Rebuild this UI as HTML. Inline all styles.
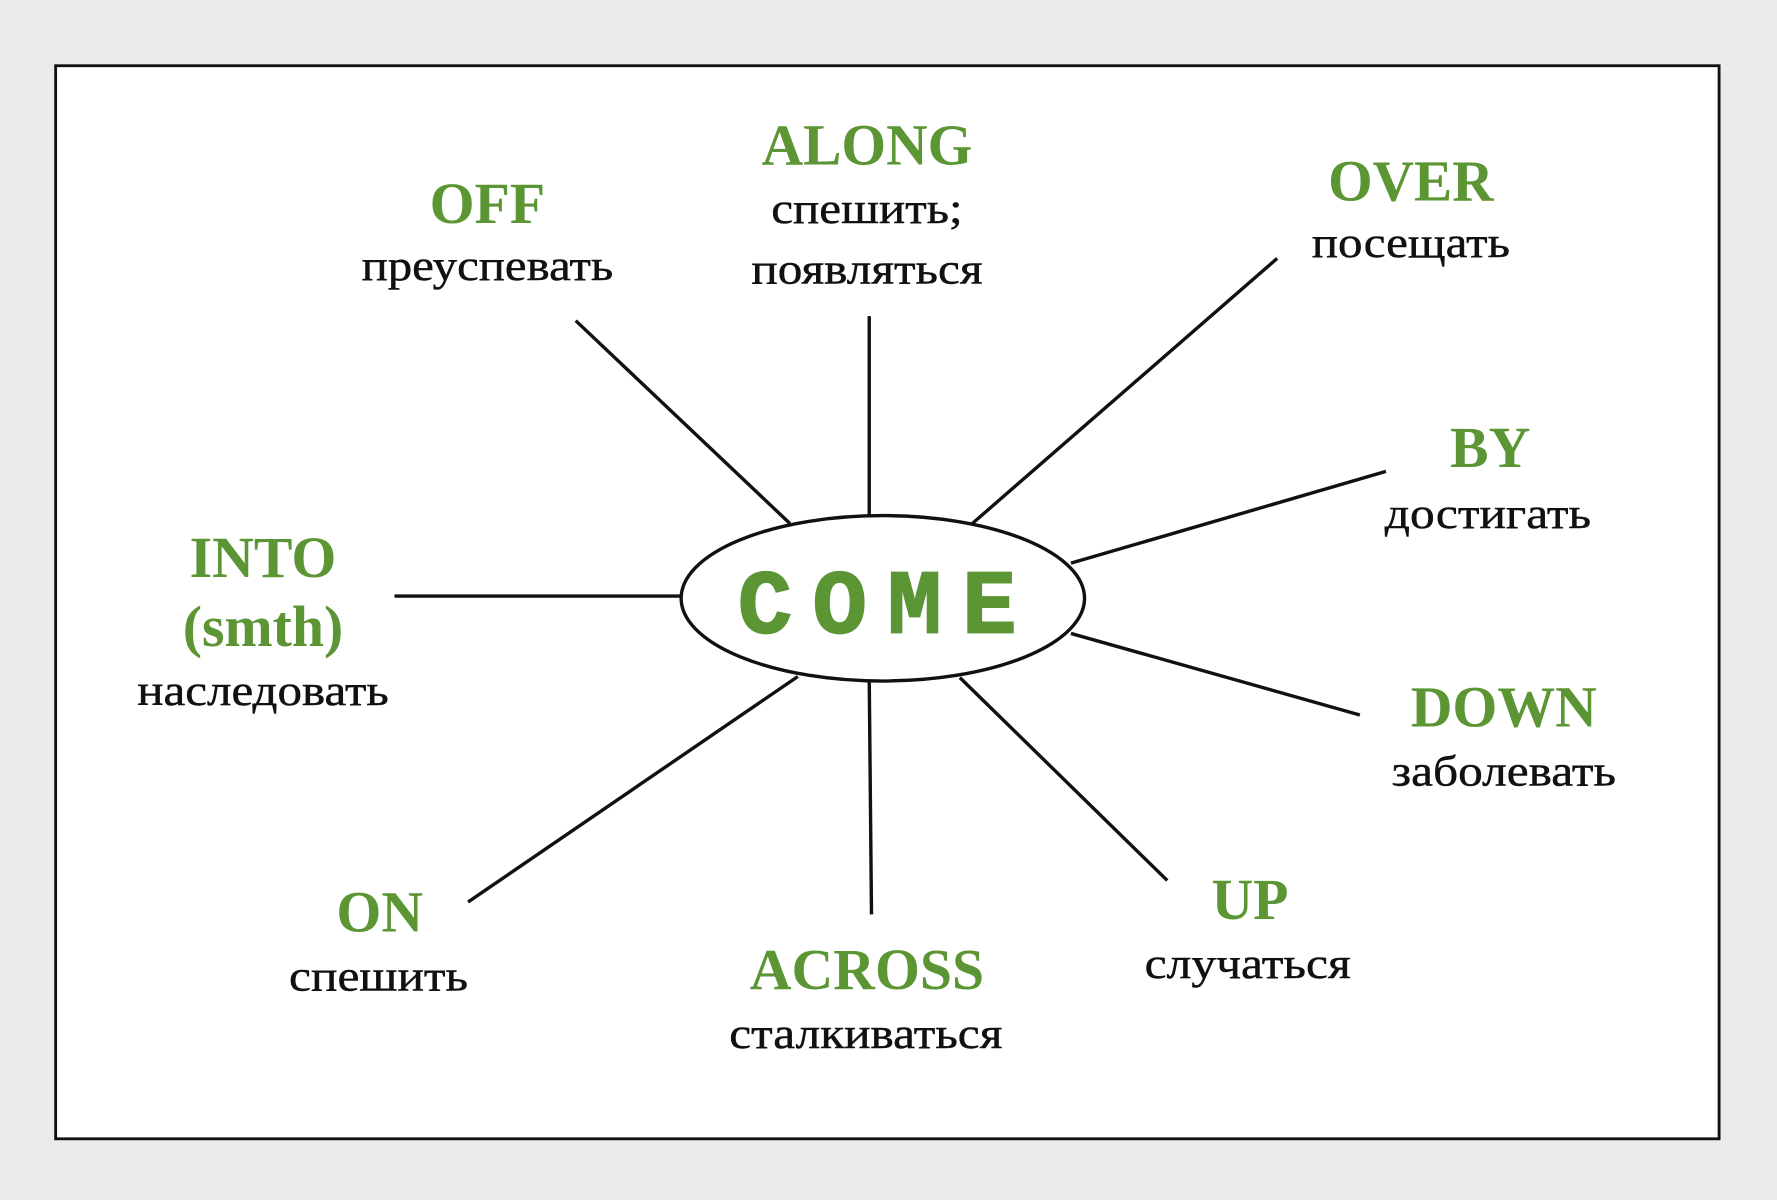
<!DOCTYPE html>
<html><head><meta charset="utf-8"><style>
html,body{margin:0;padding:0;background:#ebebeb;}
svg{display:block;}
.g{font-family:"Liberation Serif",serif;font-weight:bold;font-size:51px;fill:#5b9534;text-anchor:middle;}
.r{font-family:"Liberation Serif",serif;font-size:38px;fill:#111;text-anchor:middle;stroke:#111;stroke-width:0.4;}
</style></head><body>
<svg width="1777" height="1200" viewBox="0 0 1568 1059" xmlns="http://www.w3.org/2000/svg">
<rect x="0" y="0" width="1568" height="1059" fill="#ebebeb"/>
<rect x="49" y="58" width="1468" height="947" fill="#fff" stroke="#111" stroke-width="2.5"/>
<g stroke="#111" stroke-width="3">
<line x1="508" y1="283" x2="697" y2="462"/>
<line x1="767" y1="279" x2="767" y2="455"/>
<line x1="1127" y1="228" x2="858" y2="462"/>
<line x1="1223" y1="416" x2="945" y2="497"/>
<line x1="1200" y1="631" x2="945" y2="559"/>
<line x1="1030" y1="777" x2="847" y2="598"/>
<line x1="767" y1="600" x2="769" y2="807"/>
<line x1="413" y1="796" x2="704" y2="597"/>
<line x1="348" y1="526" x2="600" y2="526"/>
</g>
<ellipse cx="779" cy="528" rx="178" ry="73" fill="#fff" stroke="#111" stroke-width="3"/>
<text x="783" y="558" font-family="Liberation Mono, DejaVu Sans Mono, monospace" font-weight="bold" font-size="80" fill="#5b9534" text-anchor="middle" letter-spacing="18" stroke="#5b9534" stroke-width="1.5">COME</text>
<text class="g" x="430" y="197" textLength="102" lengthAdjust="spacingAndGlyphs">OFF</text><text class="r" x="430" y="247" textLength="222" lengthAdjust="spacingAndGlyphs">преуспевать</text>
<text class="g" x="765" y="145" textLength="186" lengthAdjust="spacingAndGlyphs">ALONG</text><text class="r" x="765" y="197" textLength="169" lengthAdjust="spacingAndGlyphs">спешить;</text><text class="r" x="765" y="250" textLength="204" lengthAdjust="spacingAndGlyphs">появляться</text>
<text class="g" x="1245" y="177" textLength="146" lengthAdjust="spacingAndGlyphs">OVER</text><text class="r" x="1245" y="227" textLength="175" lengthAdjust="spacingAndGlyphs">посещать</text>
<text class="g" x="1315" y="412">BY</text><text class="r" x="1313" y="466" textLength="182" lengthAdjust="spacingAndGlyphs">достигать</text>
<text class="g" x="232" y="509">INTO</text><text class="g" x="232" y="570">(smth)</text><text class="r" x="232" y="622" textLength="222" lengthAdjust="spacingAndGlyphs">наследовать</text>
<text class="g" x="1327" y="641">DOWN</text><text class="r" x="1327" y="693" textLength="198" lengthAdjust="spacingAndGlyphs">заболевать</text>
<text class="g" x="1103" y="811">UP</text><text class="r" x="1101" y="863" textLength="182" lengthAdjust="spacingAndGlyphs">случаться</text>
<text class="g" x="765" y="873">ACROSS</text><text class="r" x="764" y="925" textLength="241" lengthAdjust="spacingAndGlyphs">сталкиваться</text>
<text class="g" x="335" y="822">ON</text><text class="r" x="334" y="874" textLength="158" lengthAdjust="spacingAndGlyphs">спешить</text>
</svg>
</body></html>
